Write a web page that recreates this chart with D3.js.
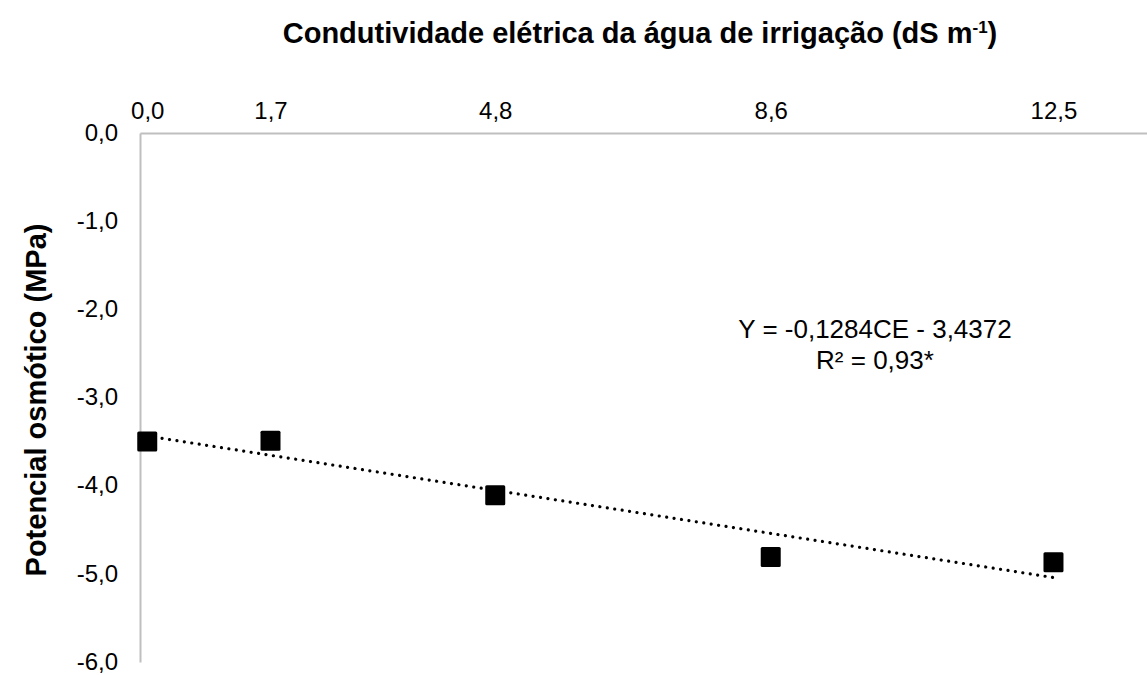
<!DOCTYPE html>
<html>
<head>
<meta charset="utf-8">
<script src="https://cdn.jsdelivr.net/npm/d3@7"></script>
<style>
  body { margin: 0; background: #fff; }
  text { font-family: "Liberation Sans", Arial, sans-serif; fill: #000; }
</style>
</head>
<body>
<svg id="chart"></svg>
<script>
// data
const ceValues = [0.0, 1.7, 4.8, 8.6, 12.5];
const potValues = [-3.50, -3.49, -4.11, -4.81, -4.87];
const xTickValues = [0.0, 1.7, 4.8, 8.6, 12.5];
const yTickValues = [0, -1, -2, -3, -4, -5, -6];
const slope = -0.1284;
const intercept = -3.4372;

const width = 1147, height = 675;
const svg = d3.select("#chart").attr("width", width).attr("height", height);

// scales
const x = d3.scaleLinear().domain([-0.1, 13.79]).range([140, 1147]);
const y = d3.scaleLinear().domain([-6, 0]).range([662, 133]);

const fmt = d => d3.format(".1f")(d).replace(".", ",").replace("−", "-");

// top x axis
const xAxis = svg.append("g").attr("transform", `translate(0,${y(0)})`)
  .call(d3.axisTop(x).tickValues(xTickValues).tickSize(0).tickPadding(14).tickFormat(fmt));
xAxis.select(".domain").attr("stroke", "#bfbfbf").attr("stroke-width", 2);
xAxis.selectAll("text").style("font-size", "24px").attr("fill", "#000");

// left y axis
const yAxis = svg.append("g").attr("transform", `translate(${x(-0.1)},0)`)
  .call(d3.axisLeft(y).tickValues(yTickValues).tickSize(0).tickPadding(22).tickFormat(fmt));
yAxis.select(".domain").attr("stroke", "#bfbfbf").attr("stroke-width", 2);
yAxis.selectAll("text").style("font-size", "24px").attr("fill", "#000").attr("dy", "0.3em");

// trend line (dotted)
const line = d3.line().x(d => x(d)).y(d => y(slope * d + intercept));
svg.append("path").datum([ceValues[0], ceValues[ceValues.length - 1]])
  .attr("d", line)
  .attr("fill", "none").attr("stroke", "#000").attr("stroke-width", 3.2)
  .attr("stroke-linecap", "round").attr("stroke-dasharray", "0.01 7.5");

// square markers
const size = 20;
svg.selectAll("rect.pt").data(ceValues).join("rect").attr("class", "pt")
  .attr("x", d => x(d) - size / 2)
  .attr("y", (d, i) => y(potValues[i]) - size / 2)
  .attr("width", size).attr("height", size).attr("rx", 1.5)
  .attr("fill", "#000");

// equation
svg.append("text").attr("x", 875).attr("y", 338).attr("text-anchor", "middle")
  .style("font-size", "26px").text("Y = -0,1284CE - 3,4372");
svg.append("text").attr("x", 875).attr("y", 369).attr("text-anchor", "middle")
  .style("font-size", "26px").text("R² = 0,93*");

// axis titles
const title = svg.append("text").attr("x", 640).attr("y", 43).attr("text-anchor", "middle")
  .style("font-size", "29px").style("font-weight", "bold");
title.append("tspan").text("Condutividade elétrica da água de irrigação (dS m");
title.append("tspan").attr("dy", -10).style("font-size", "17px").text("-1");
title.append("tspan").attr("dy", 10).text(")");

svg.append("text").attr("transform", "translate(46,400) rotate(-90)")
  .attr("text-anchor", "middle")
  .style("font-size", "29px").style("font-weight", "bold")
  .text("Potencial osmótico (MPa)");
</script>
</body>
</html>
